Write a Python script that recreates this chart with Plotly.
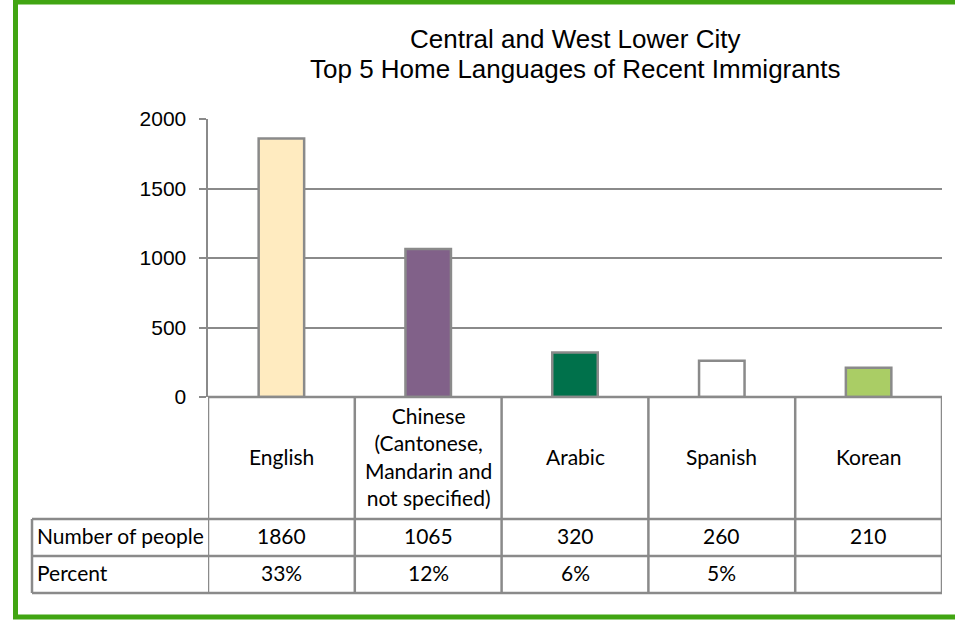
import plotly.graph_objects as go

# ---- data ----
categories = ["English", "Chinese<br>(Cantonese,<br>Mandarin and<br>not specified)", "Arabic", "Spanish", "Korean"]
counts = [1860, 1065, 320, 260, 210]
percents = ["33%", "12%", "6%", "5%", ""]
row_labels = ["Number of people", "Percent"]
bar_colors = ["#FFEBC0", "#816189", "#00714B", "#FFFFFF", "#AACD65"]
y_ticks = [0, 500, 1000, 1500, 2000]
title_lines = ["Central and West Lower City", "Top 5 Home Languages of Recent Immigrants"]

W, H = 955, 621
GRAY = "#8A8A8A"
GREEN = "#41A512"


def px(x):
    return x / W


def py(y):
    return 1 - y / H


# layout geometry (pixels)
PLOT_L, PLOT_R = 208, 942
PLOT_T, PLOT_B = 119, 397
ROW1_T, ROW2_T, ROW2_B = 519, 556, 593
TABLE_L = 32
TXT_DY = -2  # visual centring correction for table text

xs = list(range(len(categories)))

fig = go.Figure()
fig.add_trace(go.Bar(
    x=xs, y=counts,
    width=0.31,
    marker=dict(color=bar_colors, line=dict(color=GRAY, width=2.5)),
    hoverinfo="skip",
    showlegend=False,
))

shapes = []
# outer green frame
shapes.append(dict(type="rect", xref="paper", yref="paper",
                   x0=px(15.5), x1=px(1000), y0=py(617), y1=py(2),
                   line=dict(color=GREEN, width=5), layer="below"))
# table horizontal lines
shapes.append(dict(type="line", xref="paper", yref="paper",
                   x0=px(PLOT_L), x1=px(PLOT_R), y0=py(PLOT_B), y1=py(PLOT_B),
                   line=dict(color=GRAY, width=2.5)))
for yy in (ROW1_T, ROW2_T, ROW2_B):
    shapes.append(dict(type="line", xref="paper", yref="paper",
                       x0=px(TABLE_L), x1=px(PLOT_R), y0=py(yy), y1=py(yy),
                       line=dict(color=GRAY, width=2.5)))
# table vertical lines at category boundaries
for i in range(len(categories) + 1):
    shapes.append(dict(type="line", xref="x", yref="paper",
                       x0=i - 0.5, x1=i - 0.5, y0=py(PLOT_B), y1=py(ROW2_B),
                       line=dict(color=GRAY, width=2.5)))
shapes.append(dict(type="line", xref="paper", yref="paper",
                   x0=px(TABLE_L), x1=px(TABLE_L), y0=py(ROW1_T), y1=py(ROW2_B),
                   line=dict(color=GRAY, width=2.5)))

annotations = []
TFONT = dict(family="Lato, Carlito, Calibri, sans-serif", size=21, color="#000000")
for i, cat in enumerate(categories):
    annotations.append(dict(xref="x", yref="paper", x=i, y=py((PLOT_B + ROW1_T) / 2 + TXT_DY),
                            text=cat, showarrow=False, font=TFONT,
                            xanchor="center", yanchor="middle", align="center"))
    annotations.append(dict(xref="x", yref="paper", x=i, y=py((ROW1_T + ROW2_T) / 2 + TXT_DY),
                            text=str(counts[i]), showarrow=False, font=TFONT,
                            xanchor="center", yanchor="middle"))
    if percents[i]:
        annotations.append(dict(xref="x", yref="paper", x=i, y=py((ROW2_T + ROW2_B) / 2 + TXT_DY),
                                text=percents[i], showarrow=False, font=TFONT,
                                xanchor="center", yanchor="middle"))
for lab, (t, b) in zip(row_labels, [(ROW1_T, ROW2_T), (ROW2_T, ROW2_B)]):
    annotations.append(dict(xref="paper", yref="paper", x=px(TABLE_L + 3), y=py((t + b) / 2 + TXT_DY),
                            text=lab, showarrow=False, font=TFONT,
                            xanchor="left", yanchor="middle"))
# title (one annotation per line)
for line, yy in zip(title_lines, [39, 69]):
    annotations.append(dict(xref="paper", yref="paper", x=px((PLOT_L + PLOT_R) / 2), y=py(yy),
                            text=line, showarrow=False,
                            font=dict(family="Liberation Sans, Arial, sans-serif", size=26, color="#000000"),
                            xanchor="center", yanchor="middle", align="center"))

fig.update_layout(
    width=W, height=H, autosize=False,
    margin=dict(l=0, r=0, t=0, b=0, pad=0, autoexpand=False),
    paper_bgcolor="white", plot_bgcolor="white",
    shapes=shapes, annotations=annotations,
    xaxis=dict(domain=[px(PLOT_L), px(PLOT_R)], range=[-0.5, len(categories) - 0.5],
               showticklabels=False, showgrid=False, zeroline=False, ticks="",
               automargin=False, fixedrange=True),
    yaxis=dict(domain=[py(PLOT_B), py(PLOT_T)], range=[0, 2000],
               tickvals=y_ticks, ticktext=[str(v) for v in y_ticks],
               showgrid=True, gridcolor=GRAY, gridwidth=2,
               zeroline=False, showline=True, linecolor=GRAY, linewidth=2.5,
               ticks="outside", ticklen=7, tickcolor=GRAY, tickwidth=2,
               ticklabelstandoff=8, automargin=False,
               tickfont=dict(family="Liberation Sans, Arial, sans-serif", size=21, color="#000000"),
               fixedrange=True),
)

fig.write_html("out.html", config={"displayModeBar": False, "staticPlot": True},
               post_script="document.body.style.margin='0';")
